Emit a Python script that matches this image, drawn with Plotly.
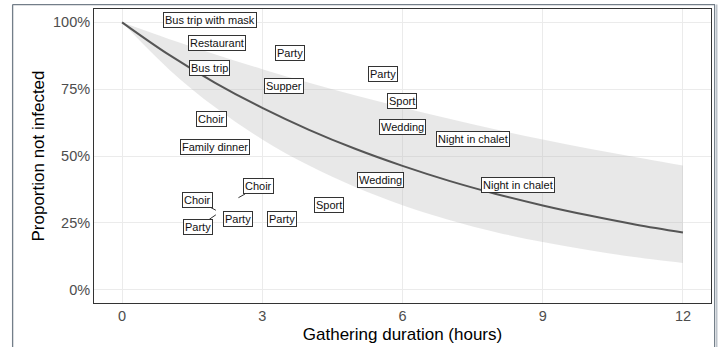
import plotly.graph_objects as go

# Fitted survival curve (proportion not infected) with its confidence band, read hourly
hours = [0, 1, 2, 3, 4, 5, 6, 7, 8, 9, 10, 11, 12]
fit = [1.0, 0.879, 0.773, 0.680, 0.598, 0.526, 0.463, 0.407, 0.358, 0.315, 0.277, 0.243, 0.214]
lower = [1.0, 0.825, 0.681, 0.562, 0.464, 0.383, 0.316, 0.261, 0.215, 0.178, 0.147, 0.121, 0.100]
upper = [1.0, 0.938, 0.880, 0.825, 0.774, 0.726, 0.681, 0.639, 0.599, 0.562, 0.527, 0.495, 0.464]

# Gathering labels (label position) and, where a leader segment is drawn, the event point
event_names = ["Bus trip with mask", "Restaurant", "Party", "Bus trip", "Supper", "Party",
               "Sport", "Wedding", "Night in chalet", "Choir", "Family dinner", "Wedding",
               "Night in chalet", "Choir", "Choir", "Party", "Party", "Party", "Sport"]
label_x = [1.879, 2.031, 3.587, 1.876, 3.465, 5.59, 5.985, 5.99, 7.51, 1.92, 1.999, 5.52,
           8.48, 2.92, 1.608, 1.634, 2.473, 3.412, 4.427]
label_y = [1.009, 0.921, 0.885, 0.831, 0.762, 0.805, 0.704, 0.608, 0.564, 0.640, 0.532, 0.410,
           0.391, 0.386, 0.335, 0.235, 0.266, 0.265, 0.317]
point_x = [None] * 13 + [2.49, 2.007, 2.007, None, None, None]
point_y = [None] * 13 + [0.344, 0.297, 0.280, None, None, None]

x_ticks = [0, 3, 6, 9, 12]
y_ticks = [0, 0.25, 0.5, 0.75, 1.0]

FONT = "Arial, Liberation Sans, sans-serif"

fig = go.Figure()

# Confidence ribbon
fig.add_trace(go.Scatter(x=hours, y=upper, mode="lines", line=dict(width=0, shape="spline"),
                         hoverinfo="skip", showlegend=False))
fig.add_trace(go.Scatter(x=hours, y=lower, mode="lines", line=dict(width=0, shape="spline"),
                         fill="tonexty", fillcolor="rgba(179,179,179,0.3)",
                         hoverinfo="skip", showlegend=False))
# Fitted curve
fig.add_trace(go.Scatter(x=hours, y=fit, mode="lines",
                         line=dict(color="#555555", width=2, shape="spline"),
                         showlegend=False))

# Boxed labels
for name, lx, ly, px, py in zip(event_names, label_x, label_y, point_x, point_y):
    common = dict(text=name, font=dict(family=FONT, size=11, color="#111111"),
                  bgcolor="#ffffff", bordercolor="#333333", borderwidth=1, borderpad=1,
                  xref="x", yref="y")
    if px is None:
        fig.add_annotation(x=lx, y=ly, showarrow=False, **common)
    else:
        fig.add_annotation(x=px, y=py, ax=lx, ay=ly, axref="x", ayref="y",
                           showarrow=True, arrowhead=0, arrowwidth=1,
                           arrowcolor="#333333", standoff=0, **common)

# Outer frame around the figure (drawn in the margins, paper coordinates)
frame_color = "#737e89"
fig.add_shape(type="line", xref="paper", yref="paper", layer="above",
              x0=-0.1319, x1=-0.1319, y0=1.0152, y1=-0.3,
              line=dict(color=frame_color, width=1.3))
fig.add_shape(type="line", xref="paper", yref="paper", layer="above",
              x0=-0.1319, x1=1.0065, y0=1.0152, y1=1.0152,
              line=dict(color=frame_color, width=1.3))
fig.add_shape(type="line", xref="paper", yref="paper", layer="above",
              x0=1.0057, x1=1.0057, y0=1.0152, y1=-0.3,
              line=dict(color=frame_color, width=1))
fig.add_shape(type="line", xref="paper", yref="paper", layer="above",
              x0=1.0089, x1=1.0089, y0=1.0152, y1=-0.3,
              line=dict(color="#bcc3ca", width=2))

axis_common = dict(showgrid=True, gridcolor="#ebebeb", gridwidth=1, zeroline=False,
                   showline=True, linecolor="#333333", linewidth=1, mirror=True,
                   ticks="", tickfont=dict(family=FONT, size=14.5, color="#4d4d4d"))

fig.update_xaxes(range=[-0.6, 12.6], tickvals=x_ticks,
                 title=dict(text="Gathering duration (hours)",
                            font=dict(family=FONT, size=17, color="#000000"), standoff=4),
                 **axis_common)
fig.update_yaxes(range=[-0.05, 1.05], tickvals=y_ticks, tickformat=".0%",
                 title=dict(text="Proportion not infected",
                            font=dict(family=FONT, size=17, color="#000000"), standoff=4),
                 **axis_common)

fig.update_layout(width=719, height=347, margin=dict(l=94, r=7, t=9, b=41),
                  plot_bgcolor="#ffffff", paper_bgcolor="#ffffff", showlegend=False)

fig.write_html("out.html")
